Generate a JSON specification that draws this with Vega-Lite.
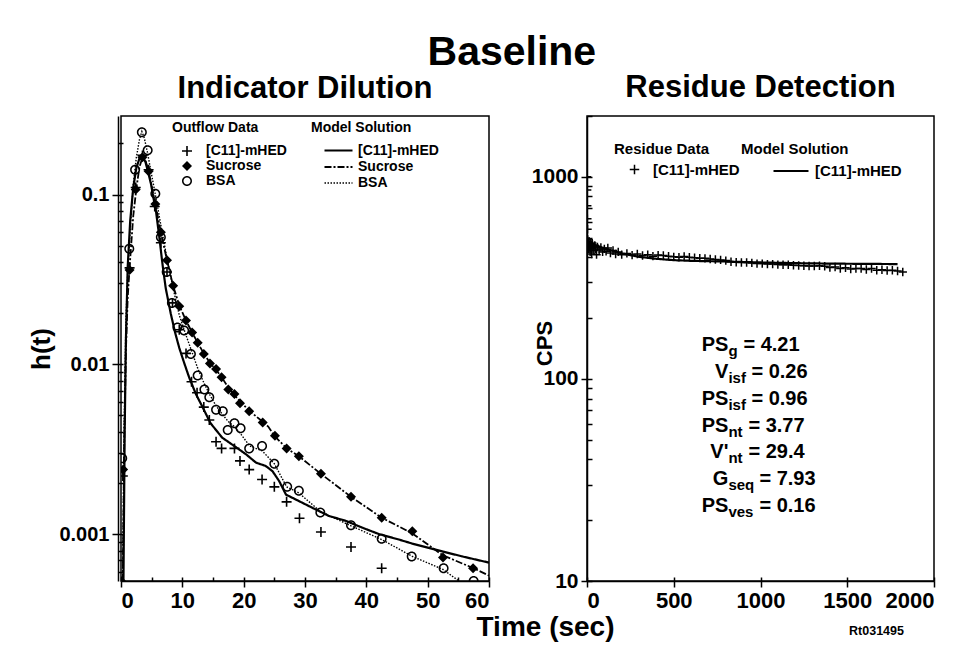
{
  "$schema": "https://vega.github.io/schema/vega-lite/v6.json",
  "background": "white",
  "padding": {"left": 28, "top": 31, "right": 5, "bottom": 5},
  "bounds": "flush",
  "title": {"text": "Baseline", "fontSize": 41, "fontWeight": "bold", "font": "Liberation Sans", "anchor": "middle", "color": "black", "offset": -2, "dx": 30},
  "config": {
    "font": "Liberation Sans",
    "view": {"stroke": "black", "strokeWidth": 1.5},
    "axis": {"grid": false, "domainColor": "black", "domainWidth": 1.5, "tickColor": "black", "tickWidth": 1.5, "labelColor": "black", "labelFont": "Liberation Sans", "labelFontWeight": "bold", "titleColor": "black", "titleFont": "Liberation Sans", "titleFontWeight": "bold"},
    "legend": {"labelFont": "Liberation Sans", "labelFontWeight": "bold", "labelColor": "black", "titleFont": "Liberation Sans", "titleFontWeight": "bold", "titleColor": "black", "labelLimit": 300, "titleLimit": 300},
    "title": {"font": "Liberation Sans", "fontWeight": "bold", "color": "black"}
  },
  "datasets": {
    "outflow": [
      {"species": "[C11]-mHED", "t": 0.3, "h": 0.0022},
      {"species": "[C11]-mHED", "t": 1.4, "h": 0.037},
      {"species": "[C11]-mHED", "t": 2.4, "h": 0.11},
      {"species": "[C11]-mHED", "t": 3.5, "h": 0.17},
      {"species": "[C11]-mHED", "t": 4.5, "h": 0.14},
      {"species": "[C11]-mHED", "t": 5.5, "h": 0.085},
      {"species": "[C11]-mHED", "t": 6.5, "h": 0.052},
      {"species": "[C11]-mHED", "t": 7.5, "h": 0.035},
      {"species": "[C11]-mHED", "t": 8.4, "h": 0.023},
      {"species": "[C11]-mHED", "t": 9.5, "h": 0.016},
      {"species": "[C11]-mHED", "t": 10.6, "h": 0.0116},
      {"species": "[C11]-mHED", "t": 11.5, "h": 0.0079},
      {"species": "[C11]-mHED", "t": 12.4, "h": 0.0068},
      {"species": "[C11]-mHED", "t": 13.5, "h": 0.0056},
      {"species": "[C11]-mHED", "t": 14.4, "h": 0.0047},
      {"species": "[C11]-mHED", "t": 15.5, "h": 0.0035},
      {"species": "[C11]-mHED", "t": 16.4, "h": 0.0032},
      {"species": "[C11]-mHED", "t": 18.5, "h": 0.0032},
      {"species": "[C11]-mHED", "t": 19.4, "h": 0.0027},
      {"species": "[C11]-mHED", "t": 20.9, "h": 0.0024},
      {"species": "[C11]-mHED", "t": 23.0, "h": 0.0021},
      {"species": "[C11]-mHED", "t": 25.0, "h": 0.0019},
      {"species": "[C11]-mHED", "t": 27.0, "h": 0.00155},
      {"species": "[C11]-mHED", "t": 29.1, "h": 0.00124},
      {"species": "[C11]-mHED", "t": 32.6, "h": 0.00103},
      {"species": "[C11]-mHED", "t": 37.5, "h": 0.00084},
      {"species": "[C11]-mHED", "t": 42.5, "h": 0.00063},
      {"species": "Sucrose", "t": 0.0, "h": 0.00053},
      {"species": "Sucrose", "t": 0.35, "h": 0.0024},
      {"species": "Sucrose", "t": 1.4, "h": 0.036},
      {"species": "Sucrose", "t": 2.4, "h": 0.107},
      {"species": "Sucrose", "t": 3.5, "h": 0.166},
      {"species": "Sucrose", "t": 4.5, "h": 0.137},
      {"species": "Sucrose", "t": 5.6, "h": 0.088},
      {"species": "Sucrose", "t": 6.5, "h": 0.06},
      {"species": "Sucrose", "t": 7.5, "h": 0.041},
      {"species": "Sucrose", "t": 8.5, "h": 0.029},
      {"species": "Sucrose", "t": 9.5, "h": 0.022},
      {"species": "Sucrose", "t": 10.6, "h": 0.0181},
      {"species": "Sucrose", "t": 11.6, "h": 0.0154},
      {"species": "Sucrose", "t": 12.5, "h": 0.0134},
      {"species": "Sucrose", "t": 13.5, "h": 0.0115},
      {"species": "Sucrose", "t": 14.5, "h": 0.0101},
      {"species": "Sucrose", "t": 15.5, "h": 0.0094},
      {"species": "Sucrose", "t": 16.4, "h": 0.0084},
      {"species": "Sucrose", "t": 17.5, "h": 0.0071},
      {"species": "Sucrose", "t": 18.5, "h": 0.0067},
      {"species": "Sucrose", "t": 19.4, "h": 0.0059},
      {"species": "Sucrose", "t": 20.9, "h": 0.0053},
      {"species": "Sucrose", "t": 23.1, "h": 0.00454},
      {"species": "Sucrose", "t": 25.1, "h": 0.0038},
      {"species": "Sucrose", "t": 27.0, "h": 0.0032},
      {"species": "Sucrose", "t": 29.0, "h": 0.00288},
      {"species": "Sucrose", "t": 32.6, "h": 0.00227},
      {"species": "Sucrose", "t": 37.5, "h": 0.00166},
      {"species": "Sucrose", "t": 42.5, "h": 0.00125},
      {"species": "Sucrose", "t": 47.5, "h": 0.00104},
      {"species": "Sucrose", "t": 52.5, "h": 0.00073},
      {"species": "Sucrose", "t": 57.4, "h": 0.00063},
      {"species": "BSA", "t": 0.2, "h": 0.0028},
      {"species": "BSA", "t": 1.35, "h": 0.048},
      {"species": "BSA", "t": 2.3, "h": 0.14},
      {"species": "BSA", "t": 3.4, "h": 0.233},
      {"species": "BSA", "t": 4.35, "h": 0.182},
      {"species": "BSA", "t": 5.6, "h": 0.101},
      {"species": "BSA", "t": 6.5, "h": 0.056},
      {"species": "BSA", "t": 7.45, "h": 0.035},
      {"species": "BSA", "t": 8.3, "h": 0.023},
      {"species": "BSA", "t": 9.2, "h": 0.0165},
      {"species": "BSA", "t": 10.3, "h": 0.0158},
      {"species": "BSA", "t": 11.4, "h": 0.0115},
      {"species": "BSA", "t": 12.5, "h": 0.0086},
      {"species": "BSA", "t": 13.6, "h": 0.0071},
      {"species": "BSA", "t": 14.4, "h": 0.0064},
      {"species": "BSA", "t": 15.5, "h": 0.0054},
      {"species": "BSA", "t": 16.6, "h": 0.0053},
      {"species": "BSA", "t": 17.4, "h": 0.0041},
      {"species": "BSA", "t": 18.5, "h": 0.0045},
      {"species": "BSA", "t": 19.5, "h": 0.0042},
      {"species": "BSA", "t": 20.9, "h": 0.0032},
      {"species": "BSA", "t": 23.0, "h": 0.0033},
      {"species": "BSA", "t": 25.0, "h": 0.0026},
      {"species": "BSA", "t": 27.1, "h": 0.0019},
      {"species": "BSA", "t": 29.0, "h": 0.0018},
      {"species": "BSA", "t": 32.5, "h": 0.00134},
      {"species": "BSA", "t": 37.5, "h": 0.00113},
      {"species": "BSA", "t": 42.5, "h": 0.00094},
      {"species": "BSA", "t": 47.4, "h": 0.00074},
      {"species": "BSA", "t": 52.6, "h": 0.00063},
      {"species": "BSA", "t": 57.5, "h": 0.00053}
    ],
    "model": [
      {"model": "[C11]-mHED", "t": 0.4, "h": 0.00053},
      {"model": "[C11]-mHED", "t": 0.6, "h": 0.004},
      {"model": "[C11]-mHED", "t": 0.8, "h": 0.014},
      {"model": "[C11]-mHED", "t": 1.1, "h": 0.038},
      {"model": "[C11]-mHED", "t": 1.5, "h": 0.07},
      {"model": "[C11]-mHED", "t": 2.0, "h": 0.11},
      {"model": "[C11]-mHED", "t": 2.5, "h": 0.143},
      {"model": "[C11]-mHED", "t": 3.0, "h": 0.163},
      {"model": "[C11]-mHED", "t": 3.5, "h": 0.168},
      {"model": "[C11]-mHED", "t": 4.0, "h": 0.155},
      {"model": "[C11]-mHED", "t": 4.5, "h": 0.132},
      {"model": "[C11]-mHED", "t": 4.9, "h": 0.115},
      {"model": "[C11]-mHED", "t": 5.3, "h": 0.095},
      {"model": "[C11]-mHED", "t": 5.7, "h": 0.08},
      {"model": "[C11]-mHED", "t": 6.2, "h": 0.058},
      {"model": "[C11]-mHED", "t": 6.8, "h": 0.038},
      {"model": "[C11]-mHED", "t": 7.3, "h": 0.028},
      {"model": "[C11]-mHED", "t": 8.1, "h": 0.02},
      {"model": "[C11]-mHED", "t": 8.8, "h": 0.0155},
      {"model": "[C11]-mHED", "t": 9.5, "h": 0.0125},
      {"model": "[C11]-mHED", "t": 10.3, "h": 0.0102},
      {"model": "[C11]-mHED", "t": 11.1, "h": 0.0084},
      {"model": "[C11]-mHED", "t": 12.2, "h": 0.0067},
      {"model": "[C11]-mHED", "t": 13.3, "h": 0.0056},
      {"model": "[C11]-mHED", "t": 14.6, "h": 0.0045},
      {"model": "[C11]-mHED", "t": 16.5, "h": 0.0037},
      {"model": "[C11]-mHED", "t": 18.5, "h": 0.0033},
      {"model": "[C11]-mHED", "t": 20.4, "h": 0.00295},
      {"model": "[C11]-mHED", "t": 22.0, "h": 0.00264},
      {"model": "[C11]-mHED", "t": 23.6, "h": 0.00252},
      {"model": "[C11]-mHED", "t": 24.7, "h": 0.00235},
      {"model": "[C11]-mHED", "t": 25.8, "h": 0.00205},
      {"model": "[C11]-mHED", "t": 26.9, "h": 0.00171},
      {"model": "[C11]-mHED", "t": 28.5, "h": 0.0016},
      {"model": "[C11]-mHED", "t": 31.2, "h": 0.00143},
      {"model": "[C11]-mHED", "t": 33.9, "h": 0.00128},
      {"model": "[C11]-mHED", "t": 36.6, "h": 0.0012},
      {"model": "[C11]-mHED", "t": 39.4, "h": 0.00109},
      {"model": "[C11]-mHED", "t": 42.1, "h": 0.001},
      {"model": "[C11]-mHED", "t": 45.3, "h": 0.00093},
      {"model": "[C11]-mHED", "t": 47.5, "h": 0.00088},
      {"model": "[C11]-mHED", "t": 50.2, "h": 0.00083},
      {"model": "[C11]-mHED", "t": 52.5, "h": 0.00079},
      {"model": "[C11]-mHED", "t": 55.6, "h": 0.00074},
      {"model": "[C11]-mHED", "t": 60.0, "h": 0.00068},
      {"model": "Sucrose", "t": 0.3, "h": 0.00053},
      {"model": "Sucrose", "t": 0.5, "h": 0.003},
      {"model": "Sucrose", "t": 0.8, "h": 0.012},
      {"model": "Sucrose", "t": 1.1, "h": 0.025},
      {"model": "Sucrose", "t": 1.5, "h": 0.042},
      {"model": "Sucrose", "t": 2.0, "h": 0.075},
      {"model": "Sucrose", "t": 2.5, "h": 0.108},
      {"model": "Sucrose", "t": 3.0, "h": 0.145},
      {"model": "Sucrose", "t": 3.5, "h": 0.165},
      {"model": "Sucrose", "t": 4.0, "h": 0.158},
      {"model": "Sucrose", "t": 4.5, "h": 0.137},
      {"model": "Sucrose", "t": 5.0, "h": 0.112},
      {"model": "Sucrose", "t": 5.6, "h": 0.088},
      {"model": "Sucrose", "t": 6.5, "h": 0.06},
      {"model": "Sucrose", "t": 7.5, "h": 0.041},
      {"model": "Sucrose", "t": 8.5, "h": 0.029},
      {"model": "Sucrose", "t": 9.5, "h": 0.0222},
      {"model": "Sucrose", "t": 10.6, "h": 0.0181},
      {"model": "Sucrose", "t": 11.6, "h": 0.0154},
      {"model": "Sucrose", "t": 12.5, "h": 0.0134},
      {"model": "Sucrose", "t": 13.5, "h": 0.0116},
      {"model": "Sucrose", "t": 14.5, "h": 0.0102},
      {"model": "Sucrose", "t": 15.5, "h": 0.0093},
      {"model": "Sucrose", "t": 16.5, "h": 0.0083},
      {"model": "Sucrose", "t": 17.5, "h": 0.0073},
      {"model": "Sucrose", "t": 18.5, "h": 0.0066},
      {"model": "Sucrose", "t": 19.5, "h": 0.006},
      {"model": "Sucrose", "t": 21.0, "h": 0.0053},
      {"model": "Sucrose", "t": 23.0, "h": 0.00462},
      {"model": "Sucrose", "t": 24.0, "h": 0.0043},
      {"model": "Sucrose", "t": 25.0, "h": 0.0038},
      {"model": "Sucrose", "t": 27.0, "h": 0.0032},
      {"model": "Sucrose", "t": 29.0, "h": 0.00288},
      {"model": "Sucrose", "t": 32.5, "h": 0.00228},
      {"model": "Sucrose", "t": 37.5, "h": 0.00166},
      {"model": "Sucrose", "t": 42.5, "h": 0.00125},
      {"model": "Sucrose", "t": 47.5, "h": 0.00101},
      {"model": "Sucrose", "t": 52.5, "h": 0.00075},
      {"model": "Sucrose", "t": 57.5, "h": 0.00063},
      {"model": "Sucrose", "t": 60.0, "h": 0.00057},
      {"model": "BSA", "t": 0.3, "h": 0.00053},
      {"model": "BSA", "t": 0.5, "h": 0.004},
      {"model": "BSA", "t": 0.8, "h": 0.018},
      {"model": "BSA", "t": 1.1, "h": 0.035},
      {"model": "BSA", "t": 1.5, "h": 0.062},
      {"model": "BSA", "t": 2.0, "h": 0.115},
      {"model": "BSA", "t": 2.5, "h": 0.165},
      {"model": "BSA", "t": 3.0, "h": 0.21},
      {"model": "BSA", "t": 3.4, "h": 0.235},
      {"model": "BSA", "t": 3.8, "h": 0.215},
      {"model": "BSA", "t": 4.3, "h": 0.178},
      {"model": "BSA", "t": 5.0, "h": 0.13},
      {"model": "BSA", "t": 5.6, "h": 0.1},
      {"model": "BSA", "t": 6.5, "h": 0.066},
      {"model": "BSA", "t": 7.5, "h": 0.042},
      {"model": "BSA", "t": 8.5, "h": 0.028},
      {"model": "BSA", "t": 9.5, "h": 0.0195},
      {"model": "BSA", "t": 10.5, "h": 0.0152},
      {"model": "BSA", "t": 11.5, "h": 0.012},
      {"model": "BSA", "t": 12.5, "h": 0.0095},
      {"model": "BSA", "t": 13.5, "h": 0.0078},
      {"model": "BSA", "t": 14.5, "h": 0.0066},
      {"model": "BSA", "t": 15.5, "h": 0.0057},
      {"model": "BSA", "t": 16.5, "h": 0.0051},
      {"model": "BSA", "t": 17.5, "h": 0.0046},
      {"model": "BSA", "t": 18.5, "h": 0.0043},
      {"model": "BSA", "t": 19.5, "h": 0.0039},
      {"model": "BSA", "t": 21.0, "h": 0.0033},
      {"model": "BSA", "t": 23.0, "h": 0.0031},
      {"model": "BSA", "t": 25.0, "h": 0.0026},
      {"model": "BSA", "t": 27.0, "h": 0.0019},
      {"model": "BSA", "t": 29.0, "h": 0.00175},
      {"model": "BSA", "t": 32.5, "h": 0.00136},
      {"model": "BSA", "t": 37.5, "h": 0.00112},
      {"model": "BSA", "t": 42.5, "h": 0.00093},
      {"model": "BSA", "t": 47.5, "h": 0.00074},
      {"model": "BSA", "t": 52.5, "h": 0.00062},
      {"model": "BSA", "t": 55.1, "h": 0.00053}
    ],
    "residue": [
      {"rdata": "[C11]-mHED", "t": 0.5, "cps": 1000},
      {"rdata": "[C11]-mHED", "t": 1, "cps": 860},
      {"rdata": "[C11]-mHED", "t": 1.5, "cps": 720},
      {"rdata": "[C11]-mHED", "t": 2, "cps": 620},
      {"rdata": "[C11]-mHED", "t": 3, "cps": 550},
      {"rdata": "[C11]-mHED", "t": 4, "cps": 490},
      {"rdata": "[C11]-mHED", "t": 6, "cps": 455},
      {"rdata": "[C11]-mHED", "t": 8, "cps": 475},
      {"rdata": "[C11]-mHED", "t": 10, "cps": 440},
      {"rdata": "[C11]-mHED", "t": 12, "cps": 480},
      {"rdata": "[C11]-mHED", "t": 15, "cps": 450},
      {"rdata": "[C11]-mHED", "t": 18, "cps": 425},
      {"rdata": "[C11]-mHED", "t": 21, "cps": 465},
      {"rdata": "[C11]-mHED", "t": 24, "cps": 445},
      {"rdata": "[C11]-mHED", "t": 27, "cps": 415},
      {"rdata": "[C11]-mHED", "t": 30, "cps": 470},
      {"rdata": "[C11]-mHED", "t": 35, "cps": 450},
      {"rdata": "[C11]-mHED", "t": 40, "cps": 432},
      {"rdata": "[C11]-mHED", "t": 45, "cps": 458},
      {"rdata": "[C11]-mHED", "t": 50, "cps": 440},
      {"rdata": "[C11]-mHED", "t": 55, "cps": 412},
      {"rdata": "[C11]-mHED", "t": 60, "cps": 450},
      {"rdata": "[C11]-mHED", "t": 70, "cps": 435},
      {"rdata": "[C11]-mHED", "t": 80, "cps": 447},
      {"rdata": "[C11]-mHED", "t": 90, "cps": 425},
      {"rdata": "[C11]-mHED", "t": 100, "cps": 440},
      {"rdata": "[C11]-mHED", "t": 110, "cps": 428},
      {"rdata": "[C11]-mHED", "t": 120, "cps": 445},
      {"rdata": "[C11]-mHED", "t": 135, "cps": 420},
      {"rdata": "[C11]-mHED", "t": 150, "cps": 432},
      {"rdata": "[C11]-mHED", "t": 165, "cps": 415},
      {"rdata": "[C11]-mHED", "t": 180, "cps": 425},
      {"rdata": "[C11]-mHED", "t": 200, "cps": 412},
      {"rdata": "[C11]-mHED", "t": 230, "cps": 418},
      {"rdata": "[C11]-mHED", "t": 260, "cps": 410},
      {"rdata": "[C11]-mHED", "t": 290, "cps": 415},
      {"rdata": "[C11]-mHED", "t": 320, "cps": 408},
      {"rdata": "[C11]-mHED", "t": 350, "cps": 412},
      {"rdata": "[C11]-mHED", "t": 380, "cps": 405},
      {"rdata": "[C11]-mHED", "t": 410, "cps": 410},
      {"rdata": "[C11]-mHED", "t": 440, "cps": 408},
      {"rdata": "[C11]-mHED", "t": 470, "cps": 405},
      {"rdata": "[C11]-mHED", "t": 500, "cps": 402},
      {"rdata": "[C11]-mHED", "t": 530, "cps": 400},
      {"rdata": "[C11]-mHED", "t": 560, "cps": 404},
      {"rdata": "[C11]-mHED", "t": 590, "cps": 400},
      {"rdata": "[C11]-mHED", "t": 620, "cps": 398},
      {"rdata": "[C11]-mHED", "t": 650, "cps": 396},
      {"rdata": "[C11]-mHED", "t": 680, "cps": 395},
      {"rdata": "[C11]-mHED", "t": 710, "cps": 392},
      {"rdata": "[C11]-mHED", "t": 740, "cps": 390},
      {"rdata": "[C11]-mHED", "t": 770, "cps": 388},
      {"rdata": "[C11]-mHED", "t": 800, "cps": 385},
      {"rdata": "[C11]-mHED", "t": 830, "cps": 380},
      {"rdata": "[C11]-mHED", "t": 860, "cps": 378},
      {"rdata": "[C11]-mHED", "t": 890, "cps": 377},
      {"rdata": "[C11]-mHED", "t": 920, "cps": 377},
      {"rdata": "[C11]-mHED", "t": 950, "cps": 375},
      {"rdata": "[C11]-mHED", "t": 980, "cps": 372},
      {"rdata": "[C11]-mHED", "t": 1010, "cps": 372},
      {"rdata": "[C11]-mHED", "t": 1040, "cps": 370},
      {"rdata": "[C11]-mHED", "t": 1070, "cps": 370},
      {"rdata": "[C11]-mHED", "t": 1100, "cps": 368},
      {"rdata": "[C11]-mHED", "t": 1130, "cps": 367},
      {"rdata": "[C11]-mHED", "t": 1160, "cps": 367},
      {"rdata": "[C11]-mHED", "t": 1190, "cps": 365},
      {"rdata": "[C11]-mHED", "t": 1220, "cps": 364},
      {"rdata": "[C11]-mHED", "t": 1250, "cps": 363},
      {"rdata": "[C11]-mHED", "t": 1280, "cps": 362},
      {"rdata": "[C11]-mHED", "t": 1310, "cps": 362},
      {"rdata": "[C11]-mHED", "t": 1340, "cps": 363},
      {"rdata": "[C11]-mHED", "t": 1370, "cps": 361},
      {"rdata": "[C11]-mHED", "t": 1400, "cps": 356},
      {"rdata": "[C11]-mHED", "t": 1430, "cps": 358},
      {"rdata": "[C11]-mHED", "t": 1460, "cps": 352},
      {"rdata": "[C11]-mHED", "t": 1490, "cps": 355},
      {"rdata": "[C11]-mHED", "t": 1520, "cps": 350},
      {"rdata": "[C11]-mHED", "t": 1550, "cps": 352},
      {"rdata": "[C11]-mHED", "t": 1580, "cps": 352},
      {"rdata": "[C11]-mHED", "t": 1610, "cps": 348},
      {"rdata": "[C11]-mHED", "t": 1640, "cps": 352},
      {"rdata": "[C11]-mHED", "t": 1670, "cps": 345},
      {"rdata": "[C11]-mHED", "t": 1700, "cps": 347},
      {"rdata": "[C11]-mHED", "t": 1730, "cps": 344},
      {"rdata": "[C11]-mHED", "t": 1760, "cps": 345},
      {"rdata": "[C11]-mHED", "t": 1790, "cps": 342},
      {"rdata": "[C11]-mHED", "t": 1820, "cps": 338}
    ],
    "residueModel": [
      {"rmodel": "[C11]-mHED", "t": 0, "cps": 490},
      {"rmodel": "[C11]-mHED", "t": 10, "cps": 475},
      {"rmodel": "[C11]-mHED", "t": 30, "cps": 465},
      {"rmodel": "[C11]-mHED", "t": 60, "cps": 455},
      {"rmodel": "[C11]-mHED", "t": 100, "cps": 442},
      {"rmodel": "[C11]-mHED", "t": 150, "cps": 430},
      {"rmodel": "[C11]-mHED", "t": 200, "cps": 418},
      {"rmodel": "[C11]-mHED", "t": 300, "cps": 402},
      {"rmodel": "[C11]-mHED", "t": 400, "cps": 393},
      {"rmodel": "[C11]-mHED", "t": 500, "cps": 387},
      {"rmodel": "[C11]-mHED", "t": 600, "cps": 384},
      {"rmodel": "[C11]-mHED", "t": 800, "cps": 381},
      {"rmodel": "[C11]-mHED", "t": 1000, "cps": 377},
      {"rmodel": "[C11]-mHED", "t": 1200, "cps": 374},
      {"rmodel": "[C11]-mHED", "t": 1400, "cps": 372},
      {"rmodel": "[C11]-mHED", "t": 1600, "cps": 371},
      {"rmodel": "[C11]-mHED", "t": 1790, "cps": 370}
    ],
    "params": [
      {"row": 1, "main": "PS", "sub": "g", "val": "= 4.21"},
      {"row": 2, "main": "V", "sub": "isf", "val": "= 0.26"},
      {"row": 3, "main": "PS", "sub": "isf", "val": "= 0.96"},
      {"row": 4, "main": "PS", "sub": "nt", "val": "= 3.77"},
      {"row": 5, "main": "V'", "sub": "nt", "val": "= 29.4"},
      {"row": 6, "main": "G", "sub": "seq", "val": "= 7.93"},
      {"row": 7, "main": "PS", "sub": "ves", "val": "= 0.16"}
    ]
  },
  "spacing": 98,
  "resolve": {
    "scale": {"x": "independent", "y": "independent", "shape": "independent", "strokeDash": "independent", "strokeWidth": "independent"},
    "legend": {"shape": "independent", "strokeDash": "independent"}
  },
  "hconcat": [
    {
      "width": 368,
      "height": 465,
      "title": {"text": "Indicator Dilution", "fontSize": 31, "offset": 11},
      "resolve": {"axis": {"x": "independent", "y": "independent"}},
      "layer": [
        {
          "data": {"name": "model"},
          "mark": {"type": "line", "color": "black", "clip": true},
          "encoding": {
            "x": {"field": "t", "type": "quantitative", "scale": {"domain": [0, 60], "nice": false, "zero": false},
              "axis": {"values": [0, 10, 20, 30, 40, 50, 60], "format": "d", "labelFontSize": 22, "tickSize": 6, "labelPadding": 3, "title": "Time (sec)", "titleFontSize": 28, "titleX": 424, "titleY": 46, "titleAlign": "center", "titleBaseline": "middle"}},
            "y": {"field": "h", "type": "quantitative", "scale": {"type": "log", "domain": [0.00053, 0.29], "nice": false},
              "axis": {"values": [0.001, 0.01, 0.1], "format": ".3~f", "labelFontSize": 20, "tickSize": 6, "labelPadding": 3, "offset": 3, "title": "h(t)", "titleFontSize": 26, "titlePadding": 4}},
            "strokeDash": {"field": "model", "type": "nominal", "sort": "descending", "title": "Model Solution",
              "scale": {"range": [[1, 0], [7, 2, 2, 2], [1.5, 1.5]]},
              "legend": {"title": "Model Solution", "orient": "none", "legendX": 190, "legendY": 5, "titleFontSize": 14, "labelFontSize": 14, "symbolType": "M-2,0H2", "symbolSize": 196, "symbolStrokeWidth": 1.6, "symbolStrokeColor": "black", "symbolFillColor": "transparent", "symbolOffset": 19, "labelOffset": 11, "rowPadding": 1, "titlePadding": 7}},
            "strokeWidth": {"field": "model", "type": "nominal", "sort": "descending", "scale": {"range": [2.2, 1.4, 1.5]}, "legend": null}
          }
        },
        {
          "data": {"name": "outflow"},
          "mark": {"type": "point", "filled": true, "color": "black", "size": 100, "opacity": 1, "clip": true},
          "encoding": {
            "x": {"field": "t", "type": "quantitative", "scale": {"domain": [0, 60], "nice": false, "zero": false},
              "axis": {"orient": "bottom", "values": [0, 5, 10, 15, 20, 25, 30, 35, 40, 45, 50, 55, 60], "labels": false, "domain": false, "title": null, "tickSize": -4}},
            "y": {"field": "h", "type": "quantitative", "scale": {"type": "log", "domain": [0.00053, 0.29], "nice": false},
              "axis": {"orient": "left", "offset": 3, "values": [0.0006, 0.0007, 0.0008, 0.0009, 0.001, 0.002, 0.003, 0.004, 0.005, 0.006, 0.007, 0.008, 0.009, 0.01, 0.02, 0.03, 0.04, 0.05, 0.06, 0.07, 0.08, 0.09, 0.1, 0.2], "labels": false, "domain": false, "title": null, "tickSize": -5}},
            "shape": {"field": "species", "type": "nominal", "sort": "descending", "title": "Outflow Data",
              "scale": {"range": ["M-1,-0.16H1V0.16H-1Z M-0.16,-1H0.16V1H-0.16Z", "diamond", "M-1,0A1,1 0 1,1 1,0A1,1 0 1,1 -1,0Z M-0.7,0A0.7,0.7 0 1,0 0.7,0A0.7,0.7 0 1,0 -0.7,0Z"]},
              "legend": {"title": "Outflow Data", "orient": "none", "legendX": 51, "legendY": 5, "titleFontSize": 14, "labelFontSize": 14, "symbolSize": 100, "symbolFillColor": "black", "symbolStrokeWidth": 0, "symbolOffset": 8, "labelOffset": 12, "rowPadding": 1, "titlePadding": 9}}
          }
        }
      ]
    },
    {
      "width": 347,
      "height": 465,
      "title": {"text": "Residue Detection", "fontSize": 31, "offset": 11},
      "resolve": {"scale": {"y": "independent"}, "axis": {"x": "independent", "y": "independent"}},
      "layer": [
        {
          "data": {"name": "residueModel"},
          "mark": {"type": "line", "color": "black", "strokeWidth": 2.2, "clip": true},
          "encoding": {
            "x": {"field": "t", "type": "quantitative", "scale": {"domain": [0, 2000], "nice": false, "zero": false},
              "axis": {"values": [0, 500, 1000, 1500, 2000], "format": "d", "labelFontSize": 22, "tickSize": 6, "labelPadding": 3, "title": "Rt031495", "titleFontSize": 12.5, "titleX": 289, "titleY": 49, "titleAlign": "center", "titleBaseline": "middle"}},
            "y": {"field": "cps", "type": "quantitative", "scale": {"type": "log", "domain": [10, 2000], "nice": false},
              "axis": {"orient": "left", "values": [10, 100, 1000], "format": "d", "labelFontSize": 21, "tickSize": 6, "labelPadding": 3, "title": "CPS", "titleFontSize": 22, "titleX": -36, "titleY": 227, "titleAlign": "center", "titleBaseline": "alphabetic", "titleAngle": -90}},
            "strokeDash": {"field": "rmodel", "type": "nominal", "title": "Model Solution",
              "scale": {"range": [[1, 0]]},
              "legend": {"title": "Model Solution", "orient": "none", "legendX": 154, "legendY": 26, "titleFontSize": 15, "labelFontSize": 15, "symbolType": "M-2,0H2", "symbolSize": 306, "symbolStrokeWidth": 1.8, "symbolStrokeColor": "black", "symbolFillColor": "transparent", "symbolOffset": 40, "labelOffset": 14, "rowPadding": 2, "titlePadding": 4}}
          }
        },
        {
          "data": {"name": "residue"},
          "mark": {"type": "point", "filled": false, "stroke": "black", "strokeWidth": 1.5, "size": 70, "opacity": 1, "clip": true},
          "encoding": {
            "x": {"field": "t", "type": "quantitative", "scale": {"domain": [0, 2000], "nice": false, "zero": false},
              "axis": {"orient": "bottom", "values": [0, 500, 1000, 1500, 2000], "labels": false, "domain": false, "title": null, "tickSize": -4}},
            "y": {"field": "cps", "type": "quantitative", "scale": {"type": "log", "domain": [10, 2000], "nice": false},
              "axis": {"orient": "left", "values": [10, 20, 30, 40, 50, 60, 70, 80, 90, 100, 200, 300, 400, 500, 600, 700, 800, 900, 1000, 2000], "labels": false, "domain": false, "title": null, "tickSize": -5}},
            "shape": {"field": "rdata", "type": "nominal", "title": "Residue Data",
              "scale": {"range": ["M-1,0L1,0M0,-1L0,1"]},
              "legend": {"title": "Residue Data", "orient": "none", "legendX": 27, "legendY": 26, "titleFontSize": 15, "labelFontSize": 15, "symbolSize": 90, "symbolStrokeWidth": 1.5, "symbolStrokeColor": "black", "symbolOffset": 13, "labelOffset": 11, "rowPadding": 2, "titlePadding": 5}}
          }
        },
        {
          "data": {"name": "params"},
          "mark": {"type": "text", "align": "right", "baseline": "alphabetic", "fontSize": 20, "fontWeight": "bold", "color": "black"},
          "encoding": {
            "x": {"datum": 815, "type": "quantitative", "axis": null},
            "y": {"field": "row", "type": "ordinal", "scale": {"type": "point", "range": [235, 396], "padding": 0}, "axis": null},
            "text": {"field": "main"}
          }
        },
        {
          "data": {"name": "params"},
          "mark": {"type": "text", "align": "left", "baseline": "alphabetic", "fontSize": 15, "fontWeight": "bold", "color": "black", "dy": 5},
          "encoding": {
            "x": {"datum": 815, "type": "quantitative", "axis": null},
            "y": {"field": "row", "type": "ordinal", "scale": {"type": "point", "range": [235, 396], "padding": 0}, "axis": null},
            "text": {"field": "sub"}
          }
        },
        {
          "data": {"name": "params"},
          "transform": [{"filter": {"field": "sub", "equal": "g"}}],
          "mark": {"type": "text", "align": "left", "baseline": "alphabetic", "fontSize": 20, "fontWeight": "bold", "color": "black", "dx": 15},
          "encoding": {
            "x": {"datum": 815, "type": "quantitative", "axis": null},
            "y": {"field": "row", "type": "ordinal", "scale": {"type": "point", "domain": [1, 2, 3, 4, 5, 6, 7], "range": [235, 396], "padding": 0}, "axis": null},
            "text": {"field": "val"}
          }
        },
        {
          "data": {"name": "params"},
          "transform": [{"filter": {"field": "sub", "equal": "isf"}}],
          "mark": {"type": "text", "align": "left", "baseline": "alphabetic", "fontSize": 20, "fontWeight": "bold", "color": "black", "dx": 23},
          "encoding": {
            "x": {"datum": 815, "type": "quantitative", "axis": null},
            "y": {"field": "row", "type": "ordinal", "scale": {"type": "point", "domain": [1, 2, 3, 4, 5, 6, 7], "range": [235, 396], "padding": 0}, "axis": null},
            "text": {"field": "val"}
          }
        },
        {
          "data": {"name": "params"},
          "transform": [{"filter": {"field": "sub", "equal": "nt"}}],
          "mark": {"type": "text", "align": "left", "baseline": "alphabetic", "fontSize": 20, "fontWeight": "bold", "color": "black", "dx": 20},
          "encoding": {
            "x": {"datum": 815, "type": "quantitative", "axis": null},
            "y": {"field": "row", "type": "ordinal", "scale": {"type": "point", "domain": [1, 2, 3, 4, 5, 6, 7], "range": [235, 396], "padding": 0}, "axis": null},
            "text": {"field": "val"}
          }
        },
        {
          "data": {"name": "params"},
          "transform": [{"filter": {"field": "sub", "equal": "seq"}}],
          "mark": {"type": "text", "align": "left", "baseline": "alphabetic", "fontSize": 20, "fontWeight": "bold", "color": "black", "dx": 31},
          "encoding": {
            "x": {"datum": 815, "type": "quantitative", "axis": null},
            "y": {"field": "row", "type": "ordinal", "scale": {"type": "point", "domain": [1, 2, 3, 4, 5, 6, 7], "range": [235, 396], "padding": 0}, "axis": null},
            "text": {"field": "val"}
          }
        },
        {
          "data": {"name": "params"},
          "transform": [{"filter": {"field": "sub", "equal": "ves"}}],
          "mark": {"type": "text", "align": "left", "baseline": "alphabetic", "fontSize": 20, "fontWeight": "bold", "color": "black", "dx": 31},
          "encoding": {
            "x": {"datum": 815, "type": "quantitative", "axis": null},
            "y": {"field": "row", "type": "ordinal", "scale": {"type": "point", "domain": [1, 2, 3, 4, 5, 6, 7], "range": [235, 396], "padding": 0}, "axis": null},
            "text": {"field": "val"}
          }
        }
      ]
    }
  ]
}
